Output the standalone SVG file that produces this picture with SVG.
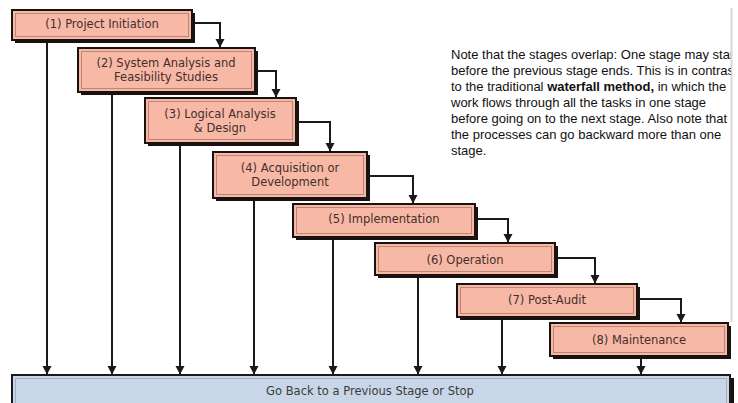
<svg xmlns="http://www.w3.org/2000/svg" width="738" height="403" viewBox="0 0 738 403">
<style>
.sh{fill:#1a1111}
.box{fill:#f7b9a5;stroke:#1a1111;stroke-width:2}
.in{fill:none;stroke:#b98878;stroke-width:1}
.bt{font-family:"DejaVu Sans","Liberation Sans",sans-serif;font-size:11.5px;fill:#442e2e;text-anchor:middle}
.c{fill:none;stroke:#1a1a1a;stroke-width:2}
.note{font-family:"Liberation Sans",Arial,sans-serif;font-size:13px;fill:#111}
</style>
<defs>
<marker id="ad" markerWidth="10" markerHeight="10" refX="5" refY="9" markerUnits="userSpaceOnUse" viewBox="0 0 10 10">
<path d="M0.5,1 L9.5,1 L5,9.5 Z" fill="#1a1a1a"/>
</marker>
<clipPath id="nc"><rect x="0" y="0" width="731" height="403"/></clipPath>
</defs>
<rect width="738" height="403" fill="#fff"/>
<line x1="731.5" y1="8" x2="731.5" y2="322" stroke="#d8d8d8" stroke-width="2"/>

<g id="connectors">
<path class="c" d="M192,23 H220 V47" marker-end="url(#ad)"/>
<path class="c" d="M255,71 H276 V97" marker-end="url(#ad)"/>
<path class="c" d="M296,122 H330 V151" marker-end="url(#ad)"/>
<path class="c" d="M367,176 H413 V203" marker-end="url(#ad)"/>
<path class="c" d="M475,219 H508 V242" marker-end="url(#ad)"/>
<path class="c" d="M555,258 H595 V283" marker-end="url(#ad)"/>
<path class="c" d="M637,299 H681 V322" marker-end="url(#ad)"/>
<path class="c" d="M47,41 V374" marker-end="url(#ad)"/>
<path class="c" d="M112,93 V374" marker-end="url(#ad)"/>
<path class="c" d="M180,144 V374" marker-end="url(#ad)"/>
<path class="c" d="M254,199 V374" marker-end="url(#ad)"/>
<path class="c" d="M333,238 V374" marker-end="url(#ad)"/>
<path class="c" d="M418,276 V374" marker-end="url(#ad)"/>
<path class="c" d="M502,318 V374" marker-end="url(#ad)"/>
<path class="c" d="M641,357 V374" marker-end="url(#ad)"/>
</g>

<g id="n1">
<rect class="sh" x="15" y="13" width="180" height="30"/>
<rect class="box" x="12" y="10" width="180" height="30"/>
<rect class="in" x="15.5" y="13.5" width="173" height="23"/>
<text class="bt" x="102" y="28">(1) Project Initiation</text>
</g>
<g id="n2">
<rect class="sh" x="81" y="51" width="177" height="44"/>
<rect class="box" x="78" y="48" width="177" height="44"/>
<rect class="in" x="81.5" y="51.5" width="170" height="37"/>
<text class="bt" x="166" y="67">(2) System Analysis and</text>
<text class="bt" x="166" y="81">Feasibility Studies</text>
</g>
<g id="n3">
<rect class="sh" x="148" y="101" width="151" height="45"/>
<rect class="box" x="145" y="98" width="151" height="45"/>
<rect class="in" x="148.5" y="101.5" width="144" height="38"/>
<text class="bt" x="220" y="118">(3) Logical Analysis</text>
<text class="bt" x="220" y="132">&amp; Design</text>
</g>
<g id="n4">
<rect class="sh" x="216" y="155" width="154" height="46"/>
<rect class="box" x="213" y="152" width="154" height="46"/>
<rect class="in" x="216.5" y="155.5" width="147" height="39"/>
<text class="bt" x="290" y="172">(4) Acquisition or</text>
<text class="bt" x="290" y="186">Development</text>
</g>
<g id="n5">
<rect class="sh" x="296" y="207" width="182" height="33"/>
<rect class="box" x="293" y="204" width="182" height="33"/>
<rect class="in" x="296.5" y="207.5" width="175" height="26"/>
<text class="bt" x="384" y="223">(5) Implementation</text>
</g>
<g id="n6">
<rect class="sh" x="378" y="246" width="180" height="32"/>
<rect class="box" x="375" y="243" width="180" height="32"/>
<rect class="in" x="378.5" y="246.5" width="173" height="25"/>
<text class="bt" x="465" y="264">(6) Operation</text>
</g>
<g id="n7">
<rect class="sh" x="460" y="287" width="180" height="33"/>
<rect class="box" x="457" y="284" width="180" height="33"/>
<rect class="in" x="460.5" y="287.5" width="173" height="26"/>
<text class="bt" x="547" y="304">(7) Post-Audit</text>
</g>
<g id="n8">
<rect class="sh" x="553" y="326" width="178" height="33"/>
<rect class="box" x="550" y="323" width="178" height="33"/>
<rect class="in" x="553.5" y="326.5" width="171" height="26"/>
<text class="bt" x="639" y="344">(8) Maintenance</text>
</g>
<g id="back">
<rect class="sh" x="15" y="378" width="719" height="40"/>
<rect x="12" y="375" width="718" height="40" fill="#c9d6e7" stroke="#1a1a1a" stroke-width="2"/>
<rect x="15.5" y="378.5" width="711" height="30" fill="none" stroke="#9fb0c8" stroke-width="1"/>
<text class="bt" x="370" y="395" style="fill:#3a3a3a">Go Back to a Previous Stage or Stop</text>
</g>

<g id="note" clip-path="url(#nc)">
<text class="note" x="451" y="59">Note that the stages overlap: One stage may start</text>
<text class="note" x="451" y="75">before the previous stage ends. This is in contrast</text>
<text class="note" x="451" y="91">to the traditional <tspan font-weight="bold">waterfall method,</tspan> in which the</text>
<text class="note" x="451" y="107">work flows through all the tasks in one stage</text>
<text class="note" x="451" y="123">before going on to the next stage. Also note that</text>
<text class="note" x="451" y="139">the processes can go backward more than one</text>
<text class="note" x="451" y="155">stage.</text>
</g>
</svg>
